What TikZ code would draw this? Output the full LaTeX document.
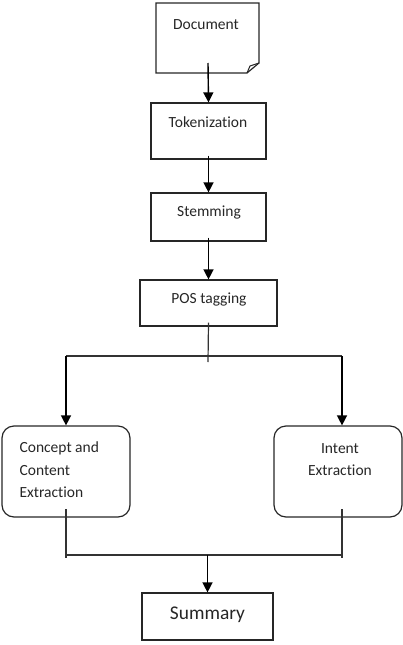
\documentclass[tikz,border=0pt]{standalone}
\usepackage{fontspec}
\setmainfont[Ligatures=NoCommon]{Carlito}
\usetikzlibrary{arrows.meta,calc}
\begin{document}
\begin{tikzpicture}[x=1pt,y=-1pt,
  line width=1.2pt,
  box/.style={draw=black!85,line width=1.2pt,inner sep=0pt},
  rbox/.style={box,rounded corners=12pt},
  txt/.style={inner sep=0pt,font=\fontsize{15.5}{22.5}\selectfont,text=black!85},
  bigtxt/.style={inner sep=0pt,font=\fontsize{19.4}{23}\selectfont,text=black!85},
  arr/.style={draw=black,line width=1.4pt,-{Triangle[length=10pt,width=10pt]}},
  ln/.style={draw=black!80,line width=1.2pt}]
\useasboundingbox (0,0) rectangle (403,645);
% Document shape with folded corner
\draw[box] (156,3) -- (259,3) -- (259,63) -- (247,73) -- (156,73) -- cycle;
\draw[box,line width=1pt] (247,73) -- (250,66) -- (259,63);
\coordinate (docout) at (208,63);
\node[txt] (doctxt) at (206,25) {Document};
% boxes
\node[box,minimum width=115pt,minimum height=56pt] (tok) at (208.5,131) {};
\node[txt] (toktxt) at (208,122) {Tokenization};
\node[box,minimum width=115pt,minimum height=48pt] (stem) at (208.5,217) {};
\node[txt] (stemtxt) at (209,212) {Stemming};
\node[box,minimum width=137pt,minimum height=46pt] (pos) at (208.5,303) {};
\node[txt] (postxt) at (209,299) {POS tagging};
\node[rbox,minimum width=128pt,minimum height=91pt] (con) at (66,471.5) {};
\node[txt,align=left,anchor=west] (contxt) at (19,470) {Concept and\\Content\\Extraction};
\node[rbox,minimum width=128pt,minimum height=91pt] (int) at (338,471.5) {};
\node[txt,align=center] (inttxt) at (340,459.5) {Intent\\Extraction};
\node[box,minimum width=131pt,minimum height=47pt] (sum) at (207.5,616.5) {};
\node[bigtxt] (sumtxt) at (207.5,615) {Summary};
% connectors
\draw[arr] (docout) -- (tok.north);
\draw[arr] ($(tok.south)+(0,-4)$) -- (stem.north);
\draw[arr] ($(stem.south)+(0,-4)$) -- (pos.north);
\coordinate (split) at (208,356);
\coordinate (lt) at (66,356);
\coordinate (rt) at (342,356);
\draw[ln] ($(pos.south)+(0,-4)$) -- ($(split)+(0,6)$);
\draw[ln] (lt) -- (rt);
\draw[arr] (lt) -- (lt |- con.north);
\draw[arr] (rt) -- (rt |- int.north);
\coordinate (lb) at (66,555);
\coordinate (rb) at (342,555);
\coordinate (join) at (207.5,555);
\draw[ln] (66,509) -- ($(lb)+(0,3)$);
\draw[ln] (342,509) -- ($(rb)+(0,3)$);
\draw[ln] (lb) -- (rb);
\draw[arr] (join) -- (sum.north);
\end{tikzpicture}
\end{document}
